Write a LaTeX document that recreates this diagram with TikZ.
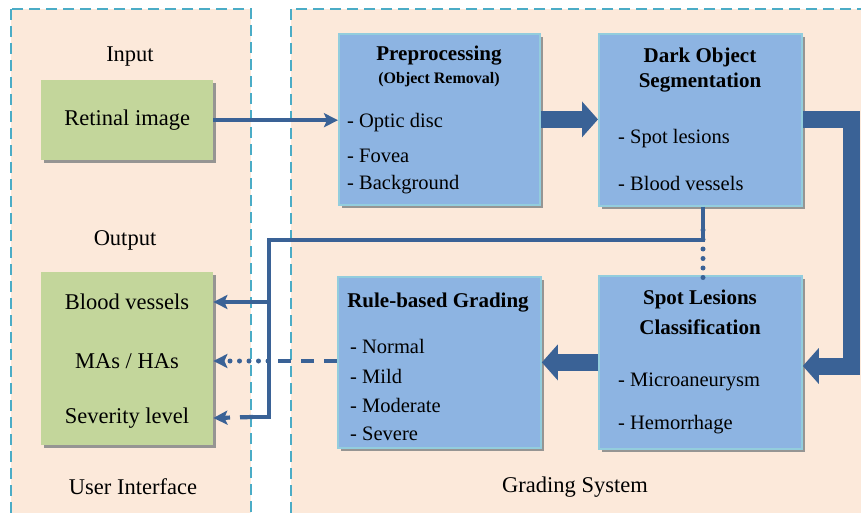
\documentclass[tikz,border=0pt]{standalone}
\usepackage{fontspec}
\setmainfont{Liberation Serif}
\usetikzlibrary{arrows.meta,shadows}
\definecolor{peach}{HTML}{FCE9DA}
\definecolor{panelline}{HTML}{4BACC6}
\definecolor{greenfill}{HTML}{C3D69B}
\definecolor{bluefill}{HTML}{8DB4E2}
\definecolor{blueedge}{HTML}{93CDDD}
\definecolor{arrowblue}{HTML}{3A6296}
\begin{document}
\begin{tikzpicture}[x=1pt,y=-1pt,
  panel/.style={fill=peach,draw=panelline,line width=2.4pt,dash pattern=on 11pt off 6pt},
  shadowed/.style={drop shadow={shadow xshift=3pt,shadow yshift=-3pt,fill=black!45,opacity=0.9}},
  gbox/.style={shadowed,fill=greenfill,draw=none,anchor=north west,inner sep=0pt},
  bbox/.style={shadowed,fill=bluefill,draw=blueedge,line width=1.8pt,anchor=north west,inner sep=0pt},
  lbl/.style={font=\fontsize{22.5}{26}\selectfont,inner sep=0pt},
  ttl/.style={font=\bfseries\fontsize{21}{25}\selectfont,inner sep=0pt},
  subttl/.style={font=\bfseries\fontsize{16}{19}\selectfont,inner sep=0pt},
  itm/.style={font=\fontsize{20.5}{24}\selectfont,inner sep=0pt,anchor=west},
  thinline/.style={draw=arrowblue,line width=4.2pt},
  thinarrow/.style={thinline,-{Stealth[length=14pt,width=14pt,inset=3pt]}},
  bigarrow/.style={draw=arrowblue,line width=17pt,line join=miter,-{Triangle[length=16pt,width=35pt]}},
  dashline/.style={dash pattern=on 13pt off 10pt},
  dotline/.style={line width=5pt,line cap=round,dash pattern=on 0pt off 9.5pt}
]
\useasboundingbox (0,0) rectangle (861,513);
\clip (0,0) rectangle (861,513);
% panels
\path[panel] (11,9) rectangle (251,540);
\path[panel] (291,9) rectangle (890,540);
\node[lbl] (inlbl) at (130,57) {Input};
\node[lbl] (outlbl) at (125,240) {Output};
\node[lbl] (uilbl) at (133,487) {User Interface};
\node[lbl] (gslbl) at (575,487) {Grading System};
% user interface boxes
\node[gbox,minimum width=172pt,minimum height=80pt,font=\fontsize{22.5}{26}\selectfont] (ret) at (41,80) {Retinal image};
\node[gbox,minimum width=172pt,minimum height=173pt] (out) at (41,272) {};
\node[lbl] (ob) at (127,302) {Blood vessels};
\node[lbl] (om) at (127,361) {MAs / HAs};
\node[lbl] (os) at (127,418) {Severity level};
% grading system boxes
\node[bbox,minimum width=201pt,minimum height=171pt] (pre) at (338,33) {};
\node[ttl] (pret) at (439,56) {Preprocessing};
\node[subttl] (pres) at (439,80) {(Object Removal)};
\node[itm] (p1) at (347,123) {- Optic disc};
\node[itm] (p2) at (347,156) {- Fovea};
\node[itm] (p3) at (347,185) {- Background};
\node[bbox,minimum width=203pt,minimum height=172pt] (dark) at (598,33) {};
\node[ttl] (darkt1) at (700,57) {Dark Object};
\node[ttl] (darkt2) at (700,83) {Segmentation};
\node[itm] (d1t) at (618,139) {- Spot lesions};
\node[itm] (d2t) at (618,183) {- Blood vessels};
\node[bbox,minimum width=203pt,minimum height=173pt] (spot) at (598,275) {};
\node[ttl] (spott1) at (700,299) {Spot Lesions};
\node[ttl] (spott2) at (700,327) {Classification};
\node[itm] (s1) at (618,382) {- Microaneurysm};
\node[itm] (s2) at (618,425) {- Hemorrhage};
\node[bbox,minimum width=203pt,minimum height=171pt] (rule) at (337,276) {};
\node[ttl] (rulet) at (438,303) {Rule-based Grading};
\node[itm] (r1) at (350,346) {- Normal};
\node[itm] (r2) at (350,376) {- Mild};
\node[itm] (r3) at (350,405) {- Moderate};
\node[itm] (r4) at (350,434) {- Severe};
% connectors
\coordinate (c1) at (851,120);
\coordinate (c2) at (851,366);
\coordinate (d0) at (703,240);
\coordinate (j1) at (269,240);
\coordinate (j2) at (269,417);
\coordinate (j3) at (253,417);
\coordinate (m1) at (268,361);
\draw[thinarrow] (ret.east) -- (ret.east -| pre.west);
\draw[bigarrow] (pre.east) -- (pre.east -| dark.west);
\draw[bigarrow] (dark.east |- c1) -- (c1) -- (c2) -- (c2 -| spot.east);
\draw[bigarrow] (spot.west) -- (rule.east);
\draw[thinline] (dark.south -| d0) -- (d0) -- (j1) -- (j2) -- (j3);
\draw[thinarrow] (j1 |- ob) -- (ob -| out.east);
\draw[thinarrow,dashline] (j3) -- (os -| out.east);
\draw[thinline,dotline] ([yshift=10pt]d0) -- ([yshift=-4pt]spot.north -| d0);
\draw[thinline,dashline] (rule.west |- om) -- (m1);
\draw[thinarrow,dotline] (m1) -- (om -| out.east);
\end{tikzpicture}
\end{document}
